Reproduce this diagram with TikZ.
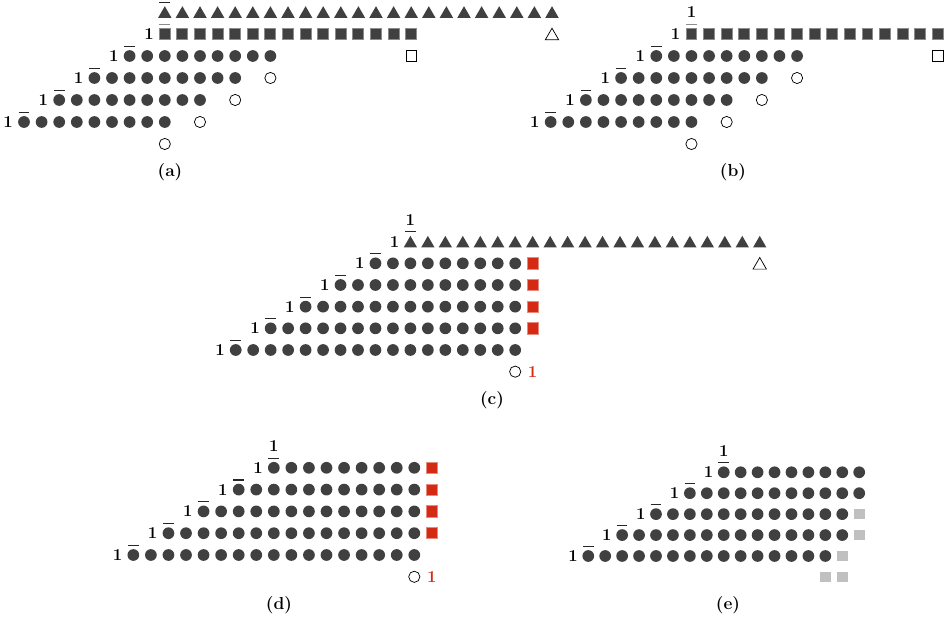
\documentclass[tikz,border=0pt]{standalone}
\usepackage{tikz}
\usetikzlibrary{shapes,positioning,calc}
\definecolor{dotgray}{HTML}{404040}
\definecolor{rimgray}{HTML}{8C8C8C}
\definecolor{markred}{HTML}{D42A14}
\definecolor{lightsq}{HTML}{C0C0C0}

\begin{document}
\begin{tikzpicture}[
  font=\fontsize{12.5}{14}\selectfont\bfseries,
  ball/.style={circle, fill=dotgray, inner sep=0pt, minimum size=8.8pt},
  hole/.style={circle, draw=black, line width=0.55pt, inner sep=0pt, minimum size=8.4pt},
  sqfill/.style={rectangle, fill=dotgray, draw=rimgray, line width=0.7pt, inner sep=0pt, minimum size=8.2pt},
  sqhole/.style={rectangle, draw=black, line width=0.55pt, inner sep=0pt, minimum size=8pt},
  sqred/.style={rectangle, fill=markred, draw=markred!55, line width=0.5pt, inner sep=0pt, minimum size=8.4pt},
  sqgrey/.style={rectangle, fill=lightsq, inner sep=0pt, minimum size=8pt},
  trifill/.style={regular polygon, regular polygon sides=3, fill=dotgray, inner sep=0pt, minimum size=11.6pt, yshift=-1.45pt},
  trihole/.style={trifill, fill=none, draw=black, line width=0.55pt},
  overbar/.style={line width=0.8pt, black!85},
  greybar/.style={line width=0.8pt, rimgray},
  digit/.style={inner sep=0pt},
  caption/.style={inner sep=0pt, font=\fontsize{13}{15}\selectfont\bfseries}
]
\useasboundingbox (0,0) rectangle (709.5pt,-465pt);

% (a) four rows of balls, a row of squares, a row of triangles
\begin{scope}[shift={(18pt,-91.5pt)}, x=13.2pt, y=16.5pt]
  \foreach \r in {0,...,3} {
    \pgfmathtruncatemacro\s{2*\r}
    \pgfmathtruncatemacro\e{2*\r+8}
    \foreach \c in {\s,...,\e} \node[ball] (a-\r-\c) at (\c,\r) {};
    \node[digit] (a-one\r) at (\s-0.9,\r) {1};
    \draw[overbar] ([xshift=-4pt,yshift=2.6pt]a-\r-\s.north) -- ++(8pt,0);
    \node[hole] (a-h\r) at (\e,\r-1) {};
  }
  \foreach \c in {8,...,22} \node[sqfill] (a-4-\c) at (\c,4) {};
  \node[digit] (a-one4) at (7.1,4) {1};
  \draw[greybar] ([xshift=-4pt,yshift=3pt]a-4-8.north) -- ++(8pt,0);
  \node[sqhole] (a-sh) at (22,3) {};
  \foreach \c in {8,...,30} \node[trifill] (a-5-\c) at (\c,5) {};
  \draw[overbar] ([xshift=-4pt,yshift=2.6pt]a-5-8.north) -- ++(8pt,0);
  \node[trihole] (a-th) at (30,4) {};
\end{scope}

% (b) same rows, no triangles
\begin{scope}[shift={(413pt,-91.5pt)}, x=13.2pt, y=16.5pt]
  \foreach \r in {0,...,3} {
    \pgfmathtruncatemacro\s{2*\r}
    \pgfmathtruncatemacro\e{2*\r+8}
    \foreach \c in {\s,...,\e} \node[ball] (b-\r-\c) at (\c,\r) {};
    \node[digit] (b-one\r) at (\s-0.9,\r) {1};
    \draw[overbar] ([xshift=-4pt,yshift=2.6pt]b-\r-\s.north) -- ++(8pt,0);
    \node[hole] (b-h\r) at (\e,\r-1) {};
  }
  \foreach \c in {8,...,22} \node[sqfill] (b-4-\c) at (\c,4) {};
  \node[digit] (b-one4) at (7.1,4) {1};
  \draw[greybar] ([xshift=-4pt,yshift=3pt]b-4-8.north) -- ++(8pt,0);
  \node[sqhole] (b-sh) at (22,3) {};
  \node[digit] (b-top) at (8,5) {1};
\end{scope}

% (c) five full rows, red squares, triangles on top
\begin{scope}[shift={(176.8pt,-262.5pt)}, x=13.1pt, y=16.25pt]
  \foreach \r in {0,...,4} {
    \pgfmathtruncatemacro\s{2*\r}
    \foreach \c in {\s,...,16} \node[ball] (c-\r-\c) at (\c,\r) {};
    \node[digit] (c-one\r) at (\s-0.9,\r) {1};
    \draw[overbar] ([xshift=-4pt,yshift=2.6pt]c-\r-\s.north) -- ++(8pt,0);
  }
  \foreach \r in {1,...,4} \node[sqred] (c-red\r) at (17,\r) {};
  \foreach \c in {10,...,30} \node[trifill] (c-5-\c) at (\c,5) {};
  \node[digit] (c-one5) at (9.1,5) {1};
  \draw[overbar] ([xshift=-4pt,yshift=2.6pt]c-5-10.north) -- ++(8pt,0);
  \node[trihole] (c-th) at (30,4) {};
  \node[digit] (c-top) at (10,6) {1};
  \node[hole] (c-h) at (16,-1) {};
  \node[digit, text=markred] (c-redone) at (17,-1) {1};
\end{scope}

% (d) as (c) without triangles
\begin{scope}[shift={(100pt,-416.25pt)}, x=13.17pt, y=16.35pt]
  \foreach \r in {0,...,4} {
    \pgfmathtruncatemacro\s{2*\r}
    \foreach \c in {\s,...,16} \node[ball] (d-\r-\c) at (\c,\r) {};
    \node[digit] (d-one\r) at (\s-0.9,\r) {1};
    \draw[overbar] ([xshift=-4pt,yshift=2.6pt]d-\r-\s.north) -- ++(8pt,0);
  }
  \foreach \r in {1,...,4} \node[sqred] (d-red\r) at (17,\r) {};
  \node[digit] (d-top) at (8,5) {1};
  \node[hole] (d-h) at (16,-1) {};
  \node[digit, text=markred] (d-redone) at (17,-1) {1};
\end{scope}

% (e) rows of different length, grey squares
\begin{scope}[shift={(441.2pt,-417pt)}, x=12.7pt, y=15.7pt]
  \foreach \r/\e in {0/14,1/15,2/15,3/16,4/16} {
    \pgfmathtruncatemacro\s{2*\r}
    \foreach \c in {\s,...,\e} \node[ball] (e-\r-\c) at (\c,\r) {};
    \node[digit] (e-one\r) at (\s-0.9,\r) {1};
    \draw[overbar] ([xshift=-4pt,yshift=2.6pt]e-\r-\s.north) -- ++(8pt,0);
  }
  \foreach \c/\r in {15/0,16/1,16/2,14/-1,15/-1} \node[sqgrey] (e-g\c\r) at (\c,\r) {};
  \node[digit] (e-top) at (8,5) {1};
\end{scope}

% captions
\node[caption] (capa) at (127.5pt,-129pt) {(a)};
\node[caption] (capb) at (549.75pt,-129pt) {(b)};
\node[caption] (capc) at (369pt,-300pt) {(c)};
\node[caption] (capd) at (209.25pt,-453.75pt) {(d)};
\node[caption] (cape) at (546pt,-453.75pt) {(e)};
\end{tikzpicture}
\end{document}
